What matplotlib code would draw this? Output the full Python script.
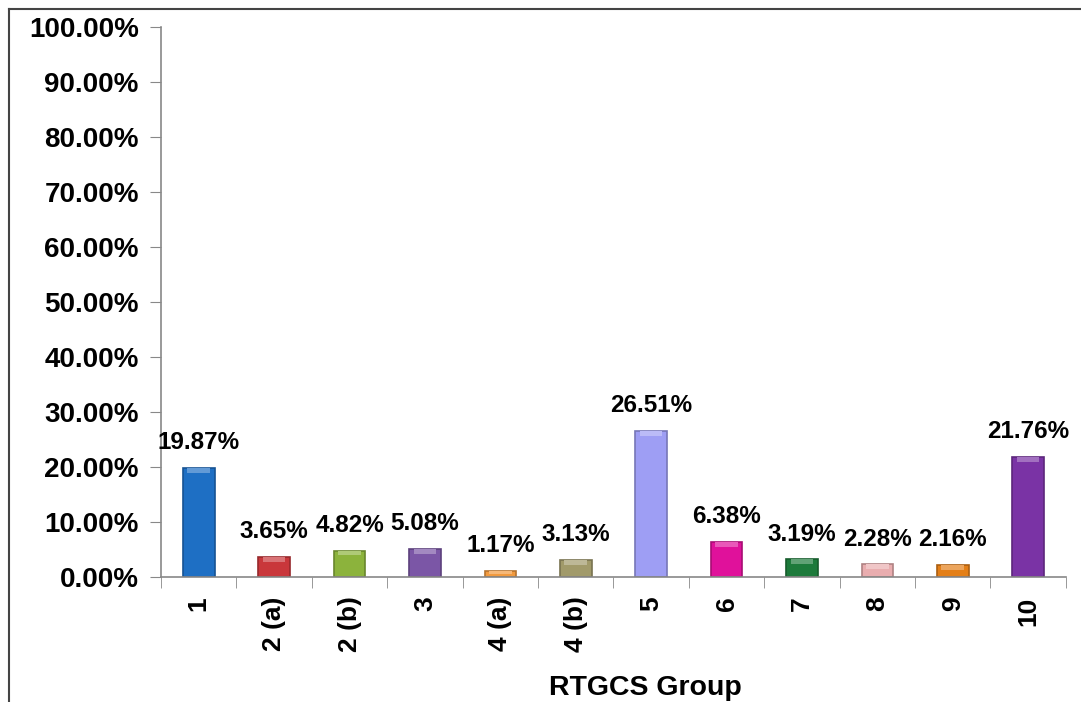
import numpy as np
import matplotlib
matplotlib.use("Agg")
import matplotlib.pyplot as plt
from matplotlib.lines import Line2D
from matplotlib.colors import to_rgb

groups = ["1", "2 (a)", "2 (b)", "3", "4 (a)", "4 (b)", "5", "6", "7", "8", "9", "10"]
shares = [19.87, 3.65, 4.82, 5.08, 1.17, 3.13, 26.51, 6.38, 3.19, 2.28, 2.16, 21.76]
bar_colors = ["#1E6FC4", "#C9373B", "#8CB33C", "#7B56A6", "#F29A3E", "#A19A6A",
              "#9E9EF4", "#E0119B", "#1D7A3B", "#E9ADAF", "#E47F17", "#7A33A5"]

plt.rcParams["font.family"] = ["Liberation Sans", "DejaVu Sans"]
plt.rcParams["font.weight"] = "bold"


def shade(c, f):
    r, g, b = to_rgb(c)
    if f < 1:
        return (r * f, g * f, b * f)
    return (r + (1 - r) * (f - 1), g + (1 - g) * (f - 1), b + (1 - b) * (f - 1))


fig = plt.figure(figsize=(10.81, 7.02), dpi=100)
ax = fig.add_axes([0.149, 0.178, 0.837, 0.784])

x = np.arange(len(groups))
edges = [shade(c, 0.75) for c in bar_colors]
ax.bar(x, shares, width=0.42, color=bar_colors, edgecolor=edges, linewidth=1.2, zorder=2)
# lighter bevel on top of each bar
cap = [min(0.9, v * 0.6) for v in shares]
ax.bar(x, cap, bottom=np.array(shares) - np.array(cap), width=0.3,
       color=[shade(c, 1.3) for c in bar_colors], linewidth=0, zorder=3)

for xi, v in zip(x, shares):
    ax.annotate(f"{v:.2f}%", (xi, v), xytext=(0, 10), textcoords="offset points",
                ha="center", va="bottom", fontsize=17.5, fontweight="bold")

ax.set_xlim(-0.5, len(groups) - 0.5)
ax.set_ylim(0, 100)
ax.set_yticks(np.arange(0, 101, 10))
ax.set_yticklabels([f"{t:.2f}%" for t in np.arange(0, 101, 10)], fontsize=20, fontweight="bold")
ax.set_xticks(x)
ax.set_xticklabels(groups, rotation=90, fontsize=19, fontweight="bold")
ax.set_xticks(np.arange(-0.5, len(groups), 1), minor=True)
ax.tick_params(axis="x", which="major", length=0, pad=14)
ax.tick_params(axis="x", which="minor", length=8, color="#888888", direction="out")
ax.tick_params(axis="y", length=8, color="#888888", direction="out", pad=8)

for s in ["top", "right"]:
    ax.spines[s].set_visible(False)
for s in ["left", "bottom"]:
    ax.spines[s].set_color("#888888")
    ax.spines[s].set_linewidth(1.2)

fig.text(645 / 1081, 1 - 688 / 702, "RTGCS Group", ha="center", va="center",
         fontsize=20.5, fontweight="bold")

# outer frame
fig.add_artist(Line2D([9 / 1081, 9 / 1081], [0, 1 - 9 / 702], color="#444444", lw=1.5))
fig.add_artist(Line2D([9 / 1081, 1], [1 - 9 / 702, 1 - 9 / 702], color="#444444", lw=1.5))

fig.savefig("out.png", dpi=100)
